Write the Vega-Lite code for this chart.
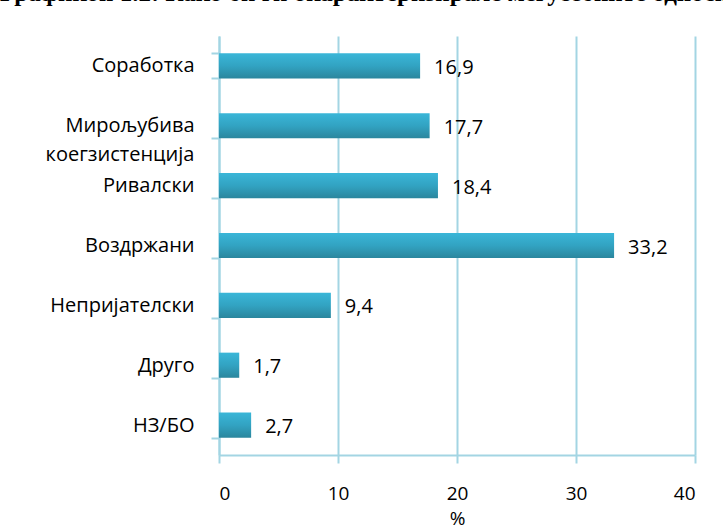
{
  "$schema": "https://vega.github.io/schema/vega-lite/v6.json",
  "autosize": {"type": "none"},
  "padding": {"left": 219, "top": 36, "right": 28, "bottom": 76},
  "width": 476,
  "height": 419,
  "background": "white",
  "title": {
    "text": "Графикон 1.2: Како би ги окарактеризирале меѓусебните односи?",
    "anchor": "start",
    "frame": "group",
    "dx": -219,
    "dy": 0,
    "offset": 0,
    "baseline": "alphabetic",
    "font": "Liberation Serif",
    "fontSize": 25,
    "fontWeight": "bold",
    "color": "black"
  },
  "config": {
    "view": {"stroke": null},
    "locale": {"number": {"decimal": ",", "thousands": ".", "grouping": [3], "currency": ["", ""]}}
  },
  "data": {
    "values": [
      {"cat": "Соработка", "v": 16.9},
      {"cat": "Мирољубива коегзистенција", "v": 17.7},
      {"cat": "Ривалски", "v": 18.4},
      {"cat": "Воздржани", "v": 33.2},
      {"cat": "Непријателски", "v": 9.4},
      {"cat": "Друго", "v": 1.7},
      {"cat": "НЗ/БО", "v": 2.7}
    ]
  },
  "encoding": {
    "y": {
      "field": "cat",
      "type": "nominal",
      "sort": null,
      "title": null,
      "scale": {"paddingInner": 0.58, "paddingOuter": 0.29},
      "axis": {
        "tickBand": "extent",
        "tickSize": 8,
        "tickWidth": 2,
        "tickColor": "#a3d5e3",
        "domainColor": "#a3d5e3",
        "domainWidth": 2,
        "labelFont": "Open Sans",
        "labelFontSize": 20,
        "labelColor": "black",
        "labelPadding": 17,
        "labelLineHeight": 29,
        "labelExpr": "split(datum.label, ' ')",
        "labelLimit": 300
      }
    },
    "x": {
      "field": "v",
      "type": "quantitative",
      "title": "%",
      "scale": {"domain": [0, 40]},
      "axis": {
        "values": [0, 10, 20, 30, 40],
        "grid": true,
        "gridColor": "#a3d5e3",
        "gridWidth": 2,
        "tickColor": "#a3d5e3",
        "tickWidth": 2,
        "tickSize": 8,
        "domainColor": "#a3d5e3",
        "domainWidth": 2,
        "labelFont": "Open Sans",
        "labelFontSize": 19,
        "labelColor": "black",
        "labelPadding": 21,
        "titleFont": "Open Sans",
        "titleFontSize": 19,
        "titleFontWeight": "normal",
        "titleColor": "black",
        "titlePadding": 6
      }
    }
  },
  "layer": [
    {
      "mark": {
        "type": "bar",
        "color": {
          "gradient": "linear",
          "x1": 0, "y1": 0, "x2": 0, "y2": 1,
          "stops": [
            {"offset": 0, "color": "#3ab6d8"},
            {"offset": 0.5, "color": "#32a3c2"},
            {"offset": 1, "color": "#2b869d"}
          ]
        }
      }
    },
    {
      "mark": {"type": "text", "align": "left", "dx": 14, "dy": 2, "font": "Open Sans", "fontSize": 20, "color": "black"},
      "encoding": {"text": {"field": "v", "type": "quantitative", "format": ".1f"}}
    }
  ]
}
